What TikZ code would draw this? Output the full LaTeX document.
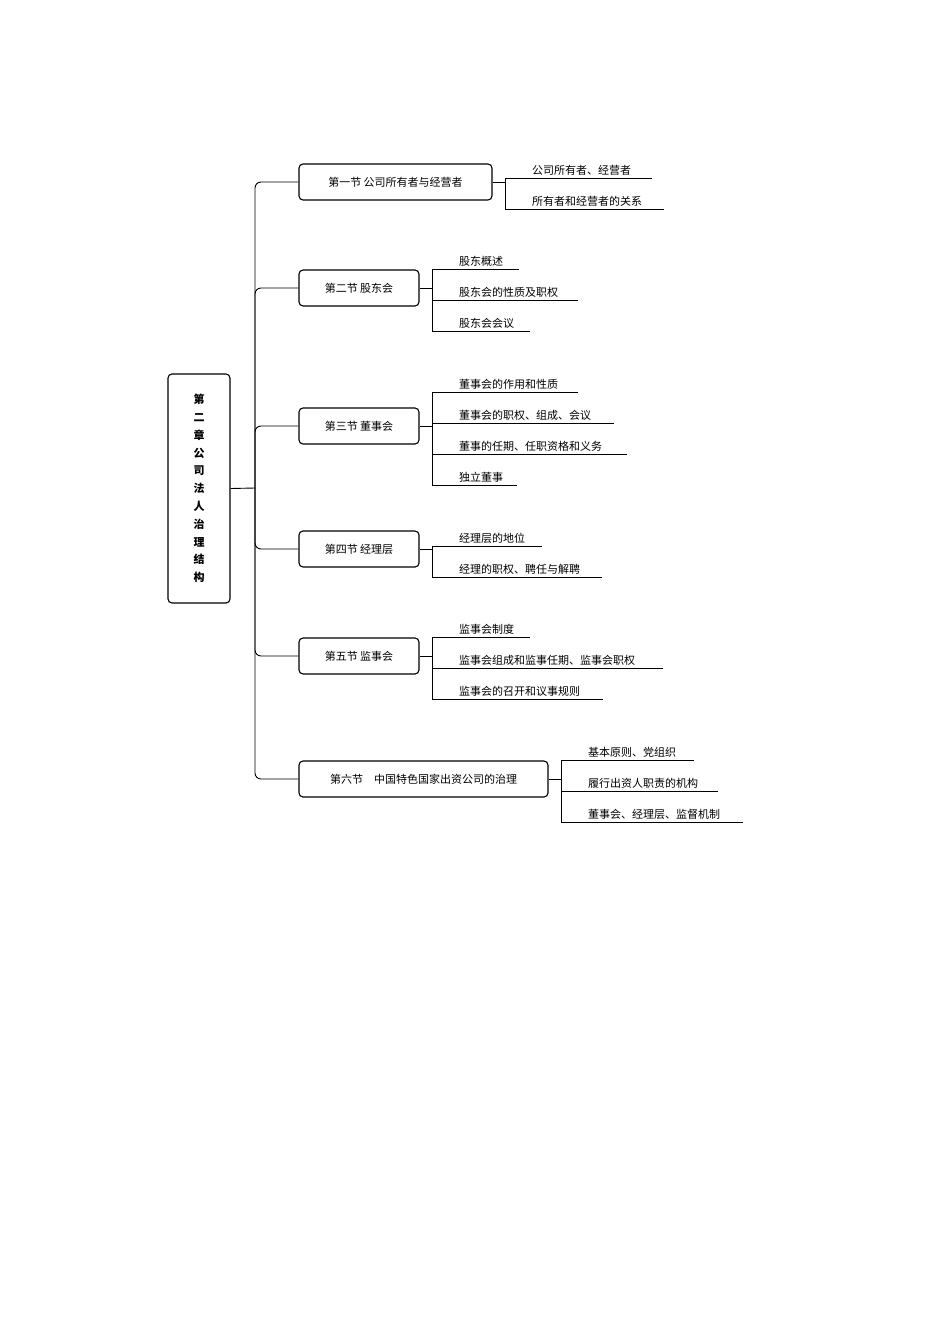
\documentclass[tikz,border=0pt]{standalone}
\usepackage{fontspec}
\setmainfont{Noto Sans CJK SC}
\begin{document}
\begin{tikzpicture}[x=1pt,y=-1pt,
  box/.style={draw,line width=1.1pt,rounded corners=4pt,minimum height=36pt,inner sep=0pt,font=\fontsize{11}{13}\selectfont},
  leaf/.style={anchor=base west,inner sep=0pt,font=\fontsize{11}{13}\selectfont},
  ln/.style={line width=0.9pt}]
\useasboundingbox (0,0) rectangle (950,1344);
\node[box,minimum width=62pt,minimum height=229pt,font=\fontsize{11}{13}\bfseries\selectfont,align=center] (root) at (199,488.5) {第\\[4.8pt]二\\[4.8pt]章\\[4.8pt]公\\[4.8pt]司\\[4.8pt]法\\[4.8pt]人\\[4.8pt]治\\[4.8pt]理\\[4.8pt]结\\[4.8pt]构};
\node[box,minimum width=193pt] (s1) at (395.5,182) {第一节 公司所有者与经营者};
\node[box,minimum width=120pt] (s2) at (359,288) {第二节 股东会};
\node[box,minimum width=120pt] (s3) at (359,426) {第三节 董事会};
\node[box,minimum width=120pt] (s4) at (359,549) {第四节 经理层};
\node[box,minimum width=120pt] (s5) at (359,656) {第五节 监事会};
\node[box,minimum width=249pt] (s6) at (423.5,779) {第六节\quad 中国特色国家出资公司的治理};
\coordinate (t) at (255,488);
\draw[ln] (root.east) -- (t);
\foreach \s in {s1,s2,s3,s4,s5,s6}{\draw[ln,rounded corners=6pt] (t) |- (\s.west);}
% leaves
\newcommand\leafs[4]{% box, bracket x, text x, list of y/end/text
  \foreach \uy/\ex/\tx [count=\i] in {#4}{
    \node[leaf] (#1l\i) at (#3,\uy-4) {\tx};
    \draw[ln] (#2,\uy) -- (\ex,\uy);
  }}
\leafs{s1}{505}{532}{178/652/公司所有者、经营者,209/664/所有者和经营者的关系}
\draw[ln] (s1.east) -- (505,182) (505,178) -- (505,209);
\leafs{s2}{432}{459}{269/519/股东概述,300/578/股东会的性质及职权,331/530/股东会会议}
\draw[ln] (s2.east) -- (432,288) (432,269) -- (432,331);
\leafs{s3}{432}{459}{392/578/董事会的作用和性质,423/614/董事会的职权、组成、会议,454/627/董事的任期、任职资格和义务,485/517/独立董事}
\draw[ln] (s3.east) -- (432,426) (432,392) -- (432,485);
\leafs{s4}{432}{459}{546/542/经理层的地位,577/602/经理的职权、聘任与解聘}
\draw[ln] (s4.east) -- (432,549) (432,546) -- (432,577);
\leafs{s5}{432}{459}{637/530/监事会制度,668/663/监事会组成和监事任期、监事会职权,699/603/监事会的召开和议事规则}
\draw[ln] (s5.east) -- (432,656) (432,637) -- (432,699);
\leafs{s6}{561}{588}{760/694/基本原则、党组织,791/718/履行出资人职责的机构,822/743/董事会、经理层、监督机制}
\draw[ln] (s6.east) -- (561,779) (561,760) -- (561,822);
\end{tikzpicture}
\end{document}
